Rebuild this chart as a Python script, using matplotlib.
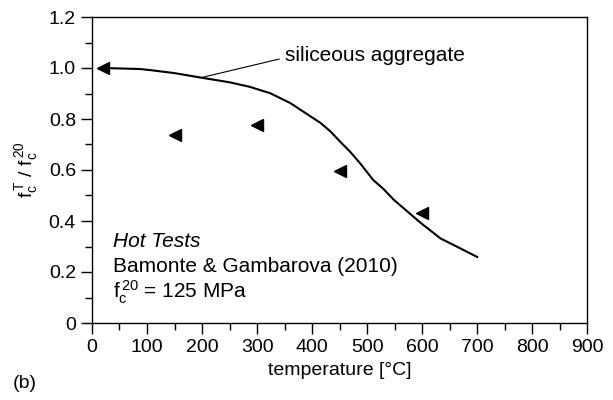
import matplotlib
matplotlib.use("Agg")
import matplotlib.pyplot as plt
from matplotlib.ticker import MultipleLocator

plt.rcParams['font.family'] = ['Liberation Sans', 'DejaVu Sans']
plt.rcParams['mathtext.fontset'] = 'custom'
plt.rcParams['mathtext.rm'] = 'Liberation Sans'
plt.rcParams['mathtext.it'] = 'Liberation Sans:italic'

# model curve (siliceous aggregate)
curve_T = [20, 87, 105, 150, 196, 250, 287, 324, 360, 396, 415, 433, 451, 469, 487,
           511, 530, 548, 596, 633, 669, 700]
curve_f = [1.0, 0.996, 0.992, 0.980, 0.963, 0.944, 0.926, 0.901, 0.863, 0.812, 0.785,
           0.752, 0.711, 0.672, 0.627, 0.561, 0.525, 0.484, 0.395, 0.332, 0.293, 0.259]

# hot test results, Bamonte & Gambarova (2010)
test_T = [20, 150, 300, 450, 600]
test_f = [1.0, 0.737, 0.776, 0.596, 0.431]

fs = 14
fs_txt = 15
fig = plt.figure(figsize=(6.13, 4.0), dpi=100)
ax = fig.add_axes([0.150, 0.1925, 0.808, 0.765])

ax.plot(curve_T, curve_f, color='black', lw=1.5)
ax.plot(test_T, test_f, linestyle='none', marker='<', ms=9, color='black')

ax.set_xlim(0, 900)
ax.set_ylim(0, 1.2)
ax.xaxis.set_major_locator(MultipleLocator(100))
ax.xaxis.set_minor_locator(MultipleLocator(50))
ax.set_yticks([0, 0.2, 0.4, 0.6, 0.8, 1.0, 1.2])
ax.set_yticklabels(['0', '0.2', '0.4', '0.6', '0.8', '1.0', '1.2'])
ax.yaxis.set_minor_locator(MultipleLocator(0.1))
ax.tick_params(which='both', direction='out', top=False, right=False, labelsize=fs, width=1)
ax.tick_params(which='major', length=8)
ax.tick_params(which='minor', length=5)
for s in ax.spines.values():
    s.set_linewidth(1)

ax.set_xlabel('temperature [°C]', fontsize=fs, labelpad=4)
ax.set_ylabel(r'$\mathregular{f_c^{\,T}\ /\ f_c^{\,20}}$', fontsize=fs, labelpad=6)

ax.plot([200, 340], [0.963, 1.035], color='black', lw=0.8)
ax.text(350, 1.05, 'siliceous aggregate', fontsize=fs_txt, va='center', ha='left')

ax.text(38, 0.318, 'Hot Tests', fontsize=fs_txt, style='italic', va='center')
ax.text(38, 0.22, 'Bamonte & Gambarova (2010)', fontsize=fs_txt, va='center')
ax.text(38, 0.12, r'$\mathregular{f_c^{\,20}}$ = 125 MPa', fontsize=fs_txt, va='center')

fig.text(0.02, 0.04, '(b)', fontsize=fs, va='center', ha='left')

fig.savefig('out.png', dpi=100)
